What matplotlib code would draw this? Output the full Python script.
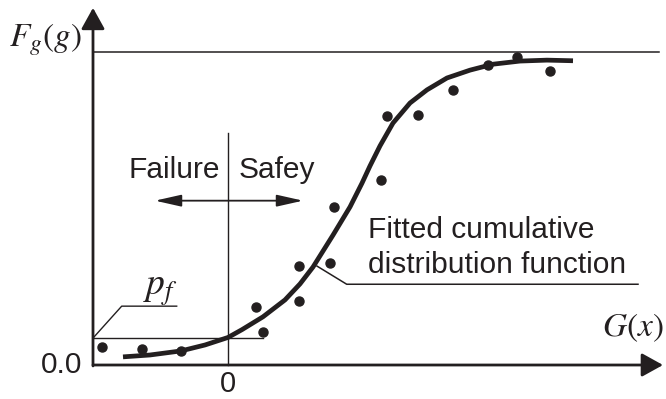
import numpy as np
import matplotlib.pyplot as plt

plt.rcParams['font.family'] = ['Liberation Sans', 'DejaVu Sans']
plt.rcParams['mathtext.fontset'] = 'stix'

# observed points (G, F)
obs_g = [-2.52, -1.73, -0.94, 0.55, 0.70, 1.41, 1.42, 2.04, 2.12, 3.06,
         3.17, 3.80, 4.50, 5.20, 5.78, 6.44]
obs_F = [0.058, 0.051, 0.045, 0.185, 0.106, 0.317, 0.204, 0.325, 0.505, 0.591,
         0.796, 0.799, 0.879, 0.958, 0.984, 0.939]

# fitted CDF
fit_g = [-2.10, -1.56, -0.94, -0.46, 0.00, 0.28, 0.70, 1.14, 1.44, 1.70,
         2.10, 2.44, 2.68, 2.84, 3.04, 3.30, 3.64, 3.98, 4.38, 4.84,
         5.30, 5.84, 6.38, 6.90]
fit_F = [0.026, 0.032, 0.045, 0.064, 0.088, 0.113, 0.154, 0.208, 0.259, 0.313,
         0.415, 0.505, 0.581, 0.636, 0.700, 0.773, 0.837, 0.879, 0.917, 0.942,
         0.961, 0.971, 0.974, 0.972]

pf = 0.086
ink = '#231f20'

fig = plt.figure(figsize=(6.66, 3.99), dpi=100)
ax = fig.add_axes([0, 0, 1, 1])
ax.set_xlim(-4.56, 8.76)
ax.set_ylim(-0.1086, 1.1661)
ax.axis('off')

x0, x1 = -2.7, 8.7
# axes with arrows
ax.annotate('', xy=(x1, 0), xytext=(x0, 0),
            arrowprops=dict(arrowstyle='-|>,head_length=0.65,head_width=0.36',
                            mutation_scale=20, lw=2.0, color=ink,
                            shrinkA=0, shrinkB=0))
ax.annotate('', xy=(x0, 1.141), xytext=(x0, -0.003),
            arrowprops=dict(arrowstyle='-|>,head_length=0.65,head_width=0.36',
                            mutation_scale=20, lw=2.0, color=ink,
                            shrinkA=0, shrinkB=0))

# upper bound F=1
ax.plot([x0, 8.62], [1.0, 1.0], color=ink, lw=1.1)
# G=0 line
ax.plot([0, 0], [0, 0.741], color=ink, lw=1.0)
# pf level
ax.plot([x0, 0.70], [pf, pf], color=ink, lw=1.0)
ax.plot([x0, -2.126, -1.026], [pf, 0.188, 0.188], color=ink, lw=1.0)

# fitted curve and points
ax.plot(fit_g, fit_F, color=ink, lw=3.4, solid_capstyle='butt',
        solid_joinstyle='round')
ax.plot(obs_g, obs_F, 'o', color=ink, ms=6.5)

# failure / safety arrow
ax.annotate('', xy=(-1.46, 0.525), xytext=(1.5, 0.525),
            arrowprops=dict(arrowstyle='<|-|>,head_length=0.8,head_width=0.18',
                            mutation_scale=20, lw=1.3, color=ink,
                            shrinkA=0, shrinkB=0))
ax.text(-0.16, 0.623, 'Failure', ha='right', va='center', fontsize=21.5, color=ink)
ax.text(0.22, 0.623, 'Safey', ha='left', va='center', fontsize=21.5, color=ink)

# fitted label with leader
ax.plot([1.78, 2.374, 8.2], [0.316, 0.258, 0.258], color=ink, lw=1.1)
ax.text(2.8, 0.432, 'Fitted cumulative', ha='left', va='center', fontsize=21.5, color=ink)
ax.text(2.8, 0.32, 'distribution function', ha='left', va='center', fontsize=21.5, color=ink)

# labels
ax.text(-1.36, 0.24, r'$p_f$', ha='center', va='center', fontsize=27, color=ink)
ax.text(-2.92, 1.04, r'$F_g(g)$', ha='right', va='center', fontsize=24, color=ink)
ax.text(8.72, 0.12, r'$G(x)$', ha='right', va='center', fontsize=24, color=ink)
ax.text(-2.92, 0.0, '0.0', ha='right', va='center', fontsize=21.5, color=ink)
ax.text(0, -0.062, '0', ha='center', va='center', fontsize=21, color=ink)

fig.savefig('out.png', dpi=100)
